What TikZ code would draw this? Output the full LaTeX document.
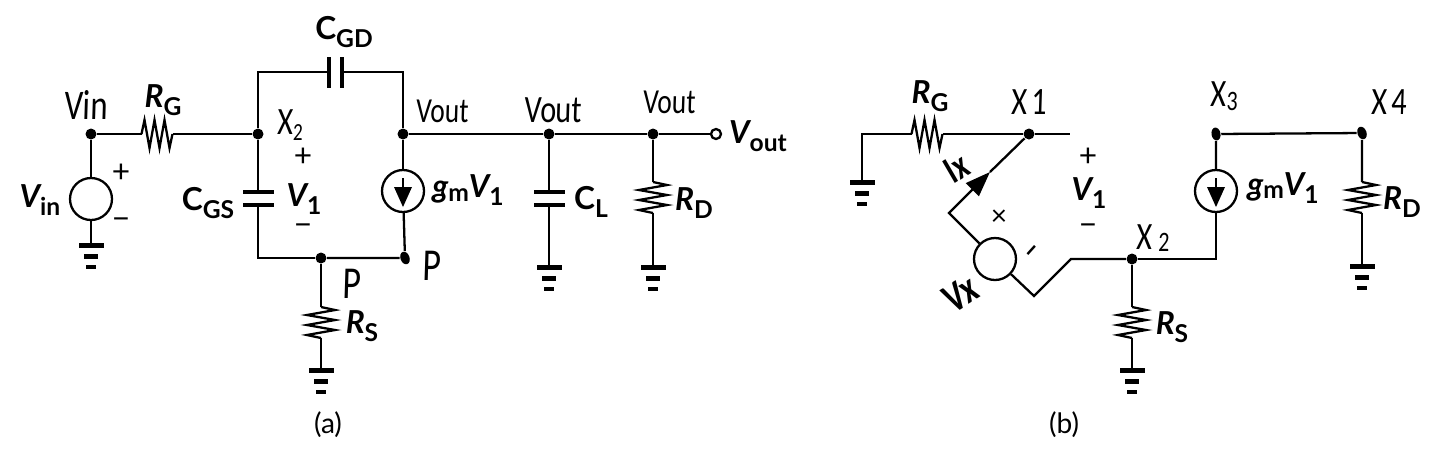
\documentclass[tikz,border=0pt]{standalone}
\usepackage{graphicx}
\usepackage{fontspec}
\usetikzlibrary{arrows.meta,shapes.geometric}
\setmainfont{Lato}
\newfontfamily\handfont[FakeSlant=.04]{Carlito}
\newcommand{\Sym}[2]{{\fontsize{9}{10}\selectfont\bfseries\itshape #1}\raisebox{-.45ex}{\fontsize{7}{8}\selectfont\bfseries #2}}
\newcommand{\Cap}[1]{{\fontsize{9}{10}\selectfont\bfseries C}\raisebox{-.45ex}{\fontsize{7}{8}\selectfont\bfseries #1}}
\newcommand{\Gm}{{\fontsize{9}{10}\selectfont\bfseries\itshape g}\raisebox{-.2ex}{\fontsize{7}{8}\selectfont\bfseries m}\Sym{V}{1}}
\newcommand{\Hand}[2]{\scalebox{.78}[1]{\handfont\fontsize{#1}{#1}\selectfont #2}}
\tikzset{
  wire/.style={line width=.65pt,line join=miter},
  dot/.style={circle,fill,inner sep=0pt,minimum size=.11cm},
  handdot/.style={ellipse,fill,inner sep=0pt,minimum width=.09cm,minimum height=.13cm},
  term/.style={circle,draw,line width=.65pt,fill=white,inner sep=0pt,minimum size=.1cm},
  src/.style={circle,draw,line width=.65pt,inner sep=0pt,minimum size=.42cm},
  lab/.style={inner sep=0pt,align=center},
  sign/.style={inner sep=0pt,font=\fontsize{9}{9}\selectfont},
  ground/.pic={
    \coordinate (-t) at (0,0);
    \fill (-.125,-.025) rectangle (.125,.025);
    \fill (-.07,-.135) rectangle (.07,-.09);
    \fill (-.05,-.24) rectangle (.05,-.2);
  },
  resistor/.pic={
    \coordinate (-a) at (0,.155);
    \coordinate (-b) at (0,-.155);
    \draw[wire] (-a) -- (.14,.125) -- (-.14,.075) -- (.14,.025) -- (-.14,-.025) -- (.14,-.075) -- (-.14,-.125) -- (-b);
  },
  capacitor/.pic={
    \coordinate (-a) at (0,.065);
    \coordinate (-b) at (0,-.065);
    \fill (-.155,.042) rectangle (.155,.088);
    \fill (-.155,-.088) rectangle (.155,-.042);
  },
  isource/.pic={
    \node[src] (-c) at (0,0) {};
    \draw[wire] (0,.13) -- (0,.04);
    \fill (-.09,.04) -- (.09,.04) -- (0,-.16) -- cycle;
  }
}
\begin{document}
\begin{tikzpicture}[x=1cm,y=1cm]
\path[use as bounding box] (0,0) rectangle (14.46,4.52);
\node[dot] (vin) at (0.91,3.18) {};
\node[dot] (xa) at (2.58,3.18) {};
\node[dot] (voa) at (4.03,3.18) {};
\node[dot] (vob) at (5.49,3.18) {};
\node[dot] (voc) at (6.53,3.18) {};
\node[term] (vout) at (7.16,3.18) {};
\node[dot] (pa) at (3.21,1.94) {};
\node[handdot,rotate=20] (pb) at (4.05,1.94) {};
\coordinate (cgdl) at (2.58,3.80);
\coordinate (cgdr) at (4.03,3.80);
\coordinate (cgsb) at (2.58,1.94);
\node[src] (vsrc) at (0.91,2.53) {};
\pic (rga) at (1.57,3.18) [rotate=-90] {resistor};
\pic (cgd) at (3.355,3.80) [rotate=-90] {capacitor};
\pic (cgs) at (2.58,2.535) {capacitor};
\pic (cl) at (5.49,2.535) {capacitor};
\pic (gma) at (4.03,2.61) {isource};
\pic (rsa) at (3.21,1.295) {resistor};
\pic (rda) at (6.53,2.545) {resistor};
\pic (gnda) at (0.91,2.07) {ground};
\pic (gndb) at (3.21,0.82) {ground};
\pic (gndc) at (5.49,1.85) {ground};
\pic (gndd) at (6.53,1.85) {ground};
\draw[wire] (vin) -- (rga-b);
\draw[wire] (rga-a) -- (xa);
\draw[wire] (vin) -- (vsrc);
\draw[wire] (vsrc) -- (gnda-t);
\draw[wire] (xa) -- (cgdl) -- (cgd-b);
\draw[wire] (cgd-a) -- (cgdr) -- (voa);
\draw[wire] (xa) -- (cgs-a);
\draw[wire] (cgs-b) -- (cgsb) -- (pa);
\draw[wire] (pa) -- (pb);
\draw[wire] (voa) -- (gma-c);
\draw[wire] (gma-c) -- (pb);
\draw[wire] (pa) -- (rsa-a);
\draw[wire] (rsa-b) -- (gndb-t);
\draw[wire] (voa) -- (vob);
\draw[wire] (vob) -- (voc);
\draw[wire] (voc) -- (vout);
\draw[wire] (vob) -- (cl-a);
\draw[wire] (cl-b) -- (gndc-t);
\draw[wire] (voc) -- (rda-a);
\draw[wire] (rda-b) -- (gndd-t);
\node[lab] (lrga) at (1.63,3.52) {\Sym{R}{G}};
\node[lab] (lcgd) at (3.44,4.20) {\Cap{GD}};
\node[lab] (lcgs) at (2.08,2.49) {\Cap{GS}};
\node[lab] (lvin) at (0.40,2.52) {\Sym{V}{in}};
\node[sign] (pvin) at (1.21,2.79) {+};
\node[sign] (mvin) at (1.21,2.28) {\textminus};
\node[sign] (pva) at (3.03,2.95) {+};
\node[lab] (lva) at (3.04,2.53) {\Sym{V}{1}};
\node[sign] (mva) at (3.03,2.22) {\textminus};
\node[lab] (lgma) at (4.68,2.62) {\Gm};
\node[lab] (lcl) at (5.91,2.50) {\Cap{L}};
\node[lab] (lrda) at (6.94,2.49) {\Sym{R}{D}};
\node[lab] (lrsa) at (3.62,1.26) {\Sym{R}{S}};
\node[lab] (lvout) at (7.58,3.16) {\Sym{V}{out}};
\node[lab] (capa) at (3.28,0.27) {\fontsize{8}{9}\selectfont (a)};
\node[lab] (hvin) at (0.86,3.47) {\Hand{12}{Vin}};
\node[lab] (hxa) at (2.90,3.27) {\Hand{11}{X}\raisebox{-.3ex}{\Hand{7}{2}}};
\node[lab] (hva) at (4.42,3.41) {\Hand{10}{Vout}};
\node[lab] (hvb) at (5.53,3.42) {\Hand{11}{Vout}};
\node[lab] (hvc) at (6.69,3.50) {\Hand{10}{Vout}};
\node[lab] (hpa) at (3.52,1.68) {\Hand{13}{P}};
\node[lab] (hpb) at (4.32,1.86) {\Hand{13}{P}};
\node[dot] (xb) at (10.29,3.18) {};
\node[dot] (xc) at (11.32,1.93) {};
\node[handdot,rotate=10] (xd) at (12.16,3.18) {};
\node[handdot,rotate=20] (xe) at (13.62,3.19) {};
\node[src] (vxs) at (9.95,1.93) {};
\coordinate (gl) at (8.62,3.18);
\coordinate (xbr) at (10.70,3.18);
\coordinate (ka) at (9.49,2.39);
\coordinate (kb) at (10.34,1.56);
\coordinate (kc) at (10.71,1.93);
\coordinate (ixt) at (9.90,2.80);
\coordinate (cr) at (12.16,1.93);
\pic (rgb) at (9.27,3.18) [rotate=-90] {resistor};
\pic (gmb) at (12.16,2.61) {isource};
\pic (rsb) at (11.32,1.295) {resistor};
\pic (rdb) at (13.62,2.545) {resistor};
\pic (gnde) at (8.62,2.70) {ground};
\pic (gndf) at (11.32,0.82) {ground};
\pic (gndg) at (13.62,1.86) {ground};
\draw[wire] (gnde-t) -- (gl) -- (rgb-b);
\draw[wire] (rgb-a) -- (xb);
\draw[wire] (xb) -- (xbr);
\draw[wire,-{Triangle[length=.25cm,width=.18cm]}] (vxs) -- (ka) -- (ixt);
\draw[wire] (ixt) -- (xb);
\draw[wire] (vxs) -- (kb) -- (kc) -- (xc);
\draw[wire] (xc) -- (cr) -- (gmb-c);
\draw[wire] (gmb-c) -- (xd);
\draw[wire] (xd) -- (xe);
\draw[wire] (xe) -- (rdb-a);
\draw[wire] (rdb-b) -- (gndg-t);
\draw[wire] (xc) -- (rsb-a);
\draw[wire] (rsb-b) -- (gndf-t);
\node[lab] (lrgb) at (9.30,3.56) {\Sym{R}{G}};
\node[sign] (pvb) at (10.88,2.95) {+};
\node[lab] (lvb) at (10.89,2.59) {\Sym{V}{1}};
\node[sign] (mvb) at (10.88,2.22) {\textminus};
\node[lab] (lgmb) at (12.83,2.64) {\Gm};
\node[lab] (lrsb) at (11.72,1.25) {\Sym{R}{S}};
\node[lab] (lrdb) at (14.02,2.50) {\Sym{R}{D}};
\node[lab] (capb) at (10.64,0.27) {\fontsize{8}{9}\selectfont (b)};
\node[lab] (hxb) at (10.29,3.50) {\Hand{11}{X\,1}};
\node[lab] (hxc) at (11.53,2.14) {\Hand{11}{X}\,\raisebox{-.1ex}{\Hand{8}{2}}};
\node[lab] (hxd) at (12.24,3.56) {\Hand{11}{X}\raisebox{-.2ex}{\Hand{8}{3}}};
\node[lab] (hxe) at (13.89,3.50) {\Hand{11}{X\,4}};
\node[lab,rotate=32] (hix) at (9.56,2.84) {\Hand{11}{\bfseries Ix}};
\node[lab,rotate=32] (hvx) at (9.60,1.58) {\Hand{12}{\bfseries Vx}};
\node[lab] (hcr) at (9.99,2.34) {\fontsize{8}{8}\selectfont ×};
\node[lab,rotate=48] (hdash) at (10.36,1.98) {\Hand{11}{\textminus}};
\end{tikzpicture}
\end{document}
